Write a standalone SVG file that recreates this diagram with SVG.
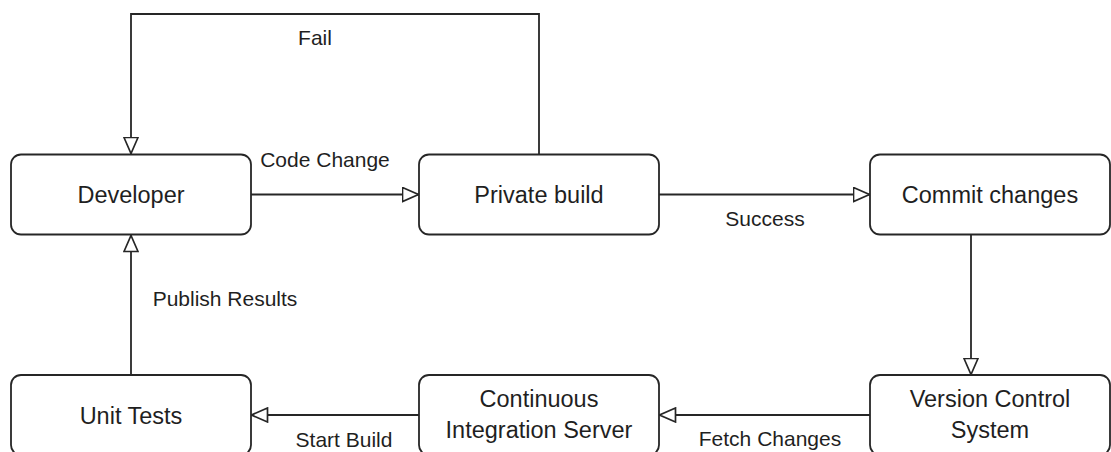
<svg xmlns="http://www.w3.org/2000/svg" width="1111" height="452" viewBox="0 0 1111 452">
  <style>
    .box { fill: #ffffff; stroke: #262626; stroke-width: 1.8; }
    .node-text { font-family: "Liberation Sans", Arial, sans-serif; font-size: 23.5px; fill: #1f1f1f; text-anchor: middle; }
    .edge { fill: none; stroke: #262626; stroke-width: 1.8; }
    .edge-label { font-family: "Liberation Sans", Arial, sans-serif; font-size: 21px; fill: #1f1f1f; text-anchor: middle; }
  </style>
  <defs>
    <!-- open (hollow) triangle arrowhead used by every connector -->
    <marker id="hollow" viewBox="0 0 18 16" refX="17.5" refY="8" markerWidth="18" markerHeight="16" markerUnits="userSpaceOnUse" orient="auto">
      <path d="M1,1 L17,8 L1,15 Z" fill="#ffffff" stroke="#262626" stroke-width="1.7"/>
    </marker>
  </defs>

  <rect width="1111" height="452" fill="#ffffff"/>

  <!-- connectors -->
  <g id="connectors">
    <path class="edge" d="M539,154.5 V14 H131 V154" marker-end="url(#hollow)"/>
    <path class="edge" d="M251,194.5 H419" marker-end="url(#hollow)"/>
    <path class="edge" d="M659,194.5 H870" marker-end="url(#hollow)"/>
    <path class="edge" d="M971,235 V375" marker-end="url(#hollow)"/>
    <path class="edge" d="M870,415 H659" marker-end="url(#hollow)"/>
    <path class="edge" d="M419,415 H251" marker-end="url(#hollow)"/>
    <path class="edge" d="M131,375 V235" marker-end="url(#hollow)"/>
    <text class="edge-label" x="315" y="45">Fail</text>
    <text class="edge-label" x="325" y="167">Code Change</text>
    <text class="edge-label" x="765" y="226">Success</text>
    <text class="edge-label" x="225" y="306">Publish Results</text>
    <text class="edge-label" x="344" y="447">Start Build</text>
    <text class="edge-label" x="770" y="446">Fetch Changes</text>
  </g>

  <!-- nodes -->
  <g id="developer">
    <rect class="box" x="11" y="154.5" width="240" height="80" rx="10"/>
    <text class="node-text" x="131" y="203">Developer</text>
  </g>
  <g id="private-build">
    <rect class="box" x="419" y="154.5" width="240" height="80" rx="10"/>
    <text class="node-text" x="539" y="203">Private build</text>
  </g>
  <g id="commit-changes">
    <rect class="box" x="870" y="154.5" width="240" height="80" rx="10"/>
    <text class="node-text" x="990" y="203">Commit changes</text>
  </g>
  <g id="unit-tests">
    <rect class="box" x="11" y="375" width="240" height="80" rx="10"/>
    <text class="node-text" x="131" y="424">Unit Tests</text>
  </g>
  <g id="ci-server">
    <rect class="box" x="419" y="375" width="240" height="80" rx="10"/>
    <text class="node-text" x="539" y="407">Continuous</text>
    <text class="node-text" x="539" y="437.5">Integration Server</text>
  </g>
  <g id="version-control">
    <rect class="box" x="870" y="375" width="240" height="80" rx="10"/>
    <text class="node-text" x="990" y="406.5">Version Control</text>
    <text class="node-text" x="990" y="438">System</text>
  </g>
</svg>
